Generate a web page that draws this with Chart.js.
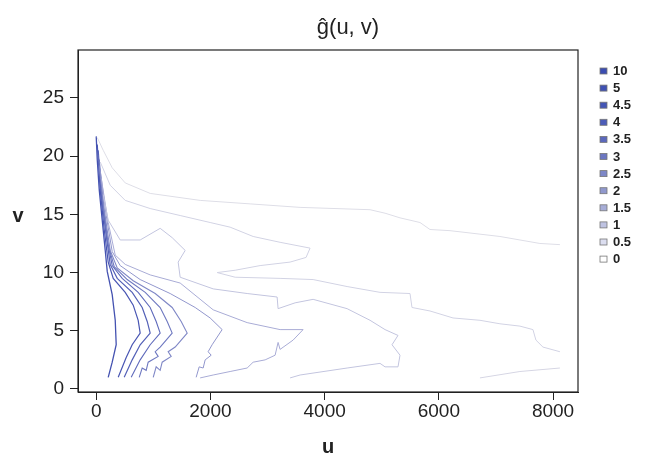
<!DOCTYPE html>
<html><head><meta charset="utf-8">
<script src="https://cdn.jsdelivr.net/npm/chart.js@4.4.0/dist/chart.umd.min.js"></script>
<style>html,body{margin:0;padding:0;background:#fff}</style>
</head><body>
<canvas id="c" width="664" height="462"></canvas>
<script>
// ---- data (u, v units) ----
const titleText = 'ĝ(u, v)';
const xLabel = 'u';
const yLabel = 'v';
const xTicks = [0, 2000, 4000, 6000, 8000];
const yTicks = [0, 5, 10, 15, 20, 25];
const legendLevels = ['10','5','4.5','4','3.5','3','2.5','2','1.5','1','0.5','0'];
const legendColors = ['#3b4db1','#3f51b3','#4456b5','#4c5cb8','#5b68bc','#6c77c1','#7d87c7','#9098cd','#a7add7','#bfc3e2','#dcdef0','#ffffff'];

const leftU = [0,18,53,105,158,193,280,333,350,280,210];
const leftV = [21.7,19.7,17.1,14.5,11.9,10.1,8.1,5.9,3.8,2.3,1.0];
const v1U = [18,70,140,210,298,508,648,735,770,630,525,385];
const v1V = [21.0,17.1,13.7,10.9,9.5,8.3,7.2,5.9,4.8,3.8,2.7,1.0];
const v2U = [35,88,175,245,368,630,805,893,945,770,630,490];
const v2V = [20.5,16.7,13.2,10.7,9.5,8.3,7.0,5.8,4.8,3.8,2.5,1.0];
const v3U = [35,105,193,280,455,735,945,1050,1120,945,770,613];
const v3V = [20.1,16.2,12.8,10.6,9.5,8.3,7.0,5.8,4.8,3.8,2.5,1.0];
const v4U = [53,123,210,315,543,858,1120,1243,1330,1120,1033,1085,910,875,805,753];
const v4V = [19.7,15.8,12.4,10.5,9.4,8.3,7.0,5.8,4.8,3.6,3.2,2.8,2.3,1.6,1.8,1.0];
const v5U = [53,140,245,368,648,1033,1330,1488,1593,1383,1260,1313,1155,1120,1050,998];
const v5V = [19.2,15.4,11.9,10.4,9.3,8.2,7.0,5.8,4.8,3.6,3.2,2.8,2.3,1.6,1.9,1.0];
const v6U = [70,175,280,420,770,1295,1733,1995,2205,2030,1960,2013,1908,1873,1803,1750];
const v6V = [18.8,14.9,11.8,10.6,9.4,8.2,7.0,6.1,5.1,3.8,3.2,2.9,2.5,1.8,1.9,1.0];
const v7U = [88,210,333,508,945,1470,2048,2643,3220,3623,3448,3220,3185,3133,2958,2748,2643,2345,2048,1820];
const v7V = [18.1,14.3,11.5,10.7,9.8,9.1,6.8,5.7,5.1,5.1,4.2,3.4,4.0,2.9,2.5,2.3,1.8,1.5,1.2,0.95];
const t3U = [123,210,420,770,1120,1330,1558,1435,1470,2048,2643,3168,3185,3483,3798,4393,4795,5058,5285,5180,5320,5285,5058,4970,4393,3570,3395];
const t3V = [16.7,14.5,12.8,12.8,13.8,13.0,11.9,10.9,9.6,8.6,8.2,7.9,6.9,7.4,7.7,6.9,5.9,5.1,4.6,3.8,2.9,1.9,1.9,2.2,1.8,1.2,0.95];
const t2U = [70,245,508,945,1470,1995,2345,2748,3220,3745,3675,3395,2870,2433,2118,2433,3220,3798,4393,4970,5495,5530,5845,6248,6720,7070,7420,7648,7700,7823,8120];
const t2V = [19.5,17.5,16.2,15.5,14.9,14.3,13.9,13.1,12.6,12.1,11.3,10.9,10.6,10.2,10.0,9.6,9.5,9.4,8.8,8.3,8.2,7.0,6.7,6.1,5.9,5.6,5.4,5.1,4.2,3.6,3.2];
const t1U = [18,123,280,508,945,1820,2695,3570,4795,5058,5320,5670,5845,6195,6720,7070,7420,7770,8120];
const t1V = [21.6,20.5,19.0,17.7,16.8,16.2,15.9,15.6,15.4,15.1,14.7,14.3,13.7,13.6,13.3,13.1,12.8,12.5,12.4];
const t4U = [6720,7420,8120];
const t4V = [0.95,1.5,1.8];

const contourLines = [
  {u:t1U, v:t1V, color:'#dedee7', w:1},
  {u:t4U, v:t4V, color:'#d6d6e4', w:1},
  {u:t2U, v:t2V, color:'#d2d3e4', w:1},
  {u:t3U, v:t3V, color:'#c3c5df', w:1},
  {u:v7U, v:v7V, color:'#a9acd6', w:1},
  {u:v6U, v:v6V, color:'#9297cd', w:1},
  {u:v5U, v:v5V, color:'#7f87c6', w:1.1},
  {u:v4U, v:v4V, color:'#6e78c0', w:1.1},
  {u:v3U, v:v3V, color:'#5f6abb', w:1.1},
  {u:v2U, v:v2V, color:'#5360b7', w:1.2},
  {u:v1U, v:v1V, color:'#4855b3', w:1.2},
  {u:leftU, v:leftV, color:'#4452b1', w:1.3}
];

const datasets = contourLines.map(l => ({
  data: l.u.map((x, i) => ({x: x, y: l.v[i]})),
  borderColor: l.color,
  borderWidth: l.w,
  showLine: true,
  pointRadius: 0,
  fill: false,
  tension: 0
}));

const FONT = "'Liberation Sans', Arial, sans-serif";

const decor = {
  id: 'decor',
  afterDraw(chart) {
    const {ctx, chartArea: a} = chart;
    ctx.save();
    ctx.strokeStyle = '#222';
    ctx.lineWidth = 1.2;
    ctx.strokeRect(a.left, a.top, a.right - a.left, a.bottom - a.top);
    ctx.fillStyle = '#222';
    ctx.font = '22px ' + FONT;
    ctx.textAlign = 'center';
    ctx.textBaseline = 'middle';
    ctx.fillText(titleText, 348, 28);
    ctx.font = 'bold 20px ' + FONT;
    ctx.fillText(yLabel, 18, 216);
    ctx.font = 'bold 13px ' + FONT;
    ctx.textAlign = 'left';
    legendLevels.forEach((lab, i) => {
      const y = 71 + i * 17.1;
      ctx.fillStyle = legendColors[i];
      ctx.fillRect(600, y - 3, 7, 6);
      ctx.strokeStyle = '#777';
      ctx.lineWidth = 0.8;
      ctx.strokeRect(600, y - 3, 7, 6);
      ctx.fillStyle = '#222';
      ctx.fillText(lab, 613, y + 0.5);
    });
    ctx.restore();
  }
};

new Chart(document.getElementById('c'), {
  type: 'scatter',
  data: {datasets},
  options: {
    responsive: false,
    animation: false,
    devicePixelRatio: 1,
    layout: {padding: {top: 50, right: 86, left: 0, bottom: 0}},
    plugins: {legend: {display: false}, tooltip: {enabled: false}, title: {display: false}},
    scales: {
      x: {
        type: 'linear', min: -319, max: 8437,
        afterBuildTicks: s => { s.ticks = xTicks.map(v => ({value: v})); },
        afterFit: s => { s.height = 70; },
        grid: {drawOnChartArea: false, drawTicks: true, tickLength: 8, color: '#222'},
        border: {display: true, color: '#222'},
        ticks: {font: {family: FONT, size: 19}, color: '#222', padding: 0, autoSkip: false, maxRotation: 0, callback: v => String(v)},
        title: {display: true, text: xLabel, color: '#222', font: {family: FONT, size: 20, weight: 'bold'}, padding: {top: 0, bottom: 3}}
      },
      y: {
        type: 'linear', min: -0.26, max: 29.12,
        afterBuildTicks: s => { s.ticks = yTicks.map(v => ({value: v})); },
        afterFit: s => { s.width = 78; },
        grid: {drawOnChartArea: false, drawTicks: true, tickLength: 8, color: '#222'},
        border: {display: true, color: '#222'},
        ticks: {font: {family: FONT, size: 19}, color: '#222', padding: 6, autoSkip: false, callback: v => String(v)}
      }
    }
  },
  plugins: [decor]
});
</script>
</body></html>
